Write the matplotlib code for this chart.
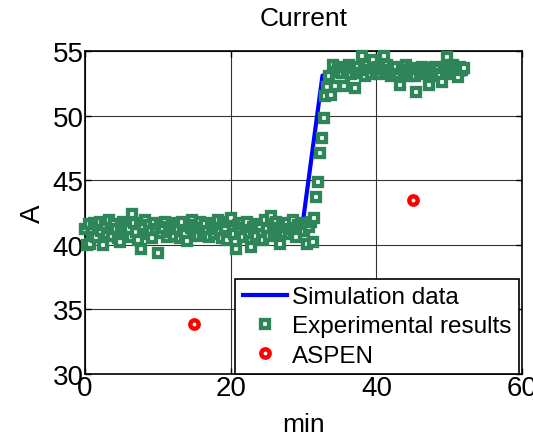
import numpy as np
import matplotlib.pyplot as plt

# simulation (blue line)
t_sim = [0, 29.8, 32.6, 33.5, 52.0]
a_sim = [41.3, 41.3, 53.1, 53.2, 53.2]

# experimental current, sampled every 0.25 min from t = 0 to 52 min
step_exp = 0.25
a_exp = [
    41.2, 40.0, 41.6, 40.1, 41.0, 41.7, 40.6, 41.4, 41.8, 41.1, 40.0, 41.5, 40.8, 41.9, 41.3, 40.7, 41.6, 41.2, 40.5, 40.2,
    41.4, 41.8, 40.9, 41.5, 41.2, 40.6, 42.4, 41.7, 41.0, 40.4, 41.6, 39.7, 41.3, 41.9, 40.8, 41.5, 41.1, 40.5, 41.7, 41.2,
    39.4, 41.6, 40.9, 41.3, 41.8, 40.6, 41.4, 41.0, 41.7, 40.7, 41.5, 41.2, 40.5, 41.8, 41.1, 40.8, 40.3, 41.6, 41.3, 41.9,
    41.0, 41.5, 40.7, 41.8, 41.3, 40.9, 41.6, 41.1, 40.6, 41.7, 41.4, 40.8, 41.2, 41.9, 41.0, 40.5, 41.6, 41.3, 40.4, 41.8,
    42.1, 41.2, 40.8, 39.7, 41.5, 41.0, 41.7, 40.6, 41.3, 41.8, 40.9, 39.8, 41.4, 41.1, 40.7, 41.6, 41.3, 40.8, 40.4, 41.9,
    41.2, 40.7, 42.2, 41.5, 41.0, 41.8, 41.3, 40.1, 41.6, 40.9, 41.4, 41.7, 40.8, 41.2, 41.9, 41.0, 40.6, 41.5, 41.3, 41.7,
    41.1, 41.6, 40.1, 41.4, 41.8, 40.2,
    42.1, 43.7, 44.9, 47.1, 48.3, 49.8, 51.5, 52.2,
    53.1, 51.6, 53.9, 52.3, 53.4, 53.7,
    53.6, 53.3, 52.3, 53.8, 53.5, 53.9, 53.2, 53.7, 52.1, 53.4, 53.8, 53.3, 54.6, 53.6, 53.1, 53.9, 53.5, 53.2, 54.3, 53.7,
    53.4, 53.8, 53.2, 53.6, 54.6, 53.3, 53.9, 53.5, 53.1, 53.7, 53.4, 53.8, 53.2, 52.4, 53.6, 53.3, 53.9, 53.5, 53.1, 53.7,
    53.4, 53.1, 51.8, 53.6, 53.3, 53.8, 53.2, 53.5, 53.7, 52.4, 53.4, 53.1, 53.8, 53.3, 53.6, 53.2, 52.6, 53.7, 53.4, 54.5,
    53.6, 53.2, 53.9, 53.4, 53.7, 53.0, 53.8, 53.5, 53.7,
]
t_exp = np.arange(len(a_exp)) * step_exp

# ASPEN points
t_aspen = [15, 45]
a_aspen = [33.9, 43.5]

plt.rcParams['font.family'] = ['Liberation Sans', 'DejaVu Sans']

fig = plt.figure(figsize=(5.33, 4.39), dpi=100)
ax = fig.add_axes([0.1595, 0.1458, 0.82, 0.7357])

ax.plot(t_sim, a_sim, color='blue', linewidth=3, label='Simulation data', zorder=2)
ax.plot(t_exp, a_exp, linestyle='none', marker='s', markersize=6.4, markeredgewidth=3.1,
        markerfacecolor='white', markeredgecolor='#2E8557', label='Experimental results',
        zorder=3, clip_on=False)
ax.plot(t_aspen, a_aspen, linestyle='none', marker='o', markersize=6, markeredgewidth=3.2,
        markerfacecolor='white', markeredgecolor='red', label='ASPEN', zorder=4)

ax.set_xlim(0, 60)
ax.set_ylim(30, 55)
ax.set_xticks([0, 20, 40, 60])
ax.set_yticks([30, 35, 40, 45, 50, 55])
ax.grid(True, color='black', linewidth=0.8, alpha=0.8)
ax.set_axisbelow(True)
ax.tick_params(direction='in', top=True, right=True, labelsize=20, length=4, width=1, pad=1)
for s in ax.spines.values():
    s.set_linewidth(1.2)

ax.set_title('Current', fontsize=19, pad=19)
ax.set_xlabel('min', fontsize=19, labelpad=8)
ax.set_ylabel('A', fontsize=20, labelpad=5)

leg = ax.legend(loc='lower right', bbox_to_anchor=(0.993, 0.0), borderaxespad=0,
                fontsize=17.5, frameon=True, fancybox=False, framealpha=1,
                handlelength=1.85, handletextpad=0.2, labelspacing=0.3, borderpad=0.3)
leg.get_frame().set_edgecolor('black')
leg.get_frame().set_linewidth(1.2)

fig.savefig('out.png', dpi=100)
